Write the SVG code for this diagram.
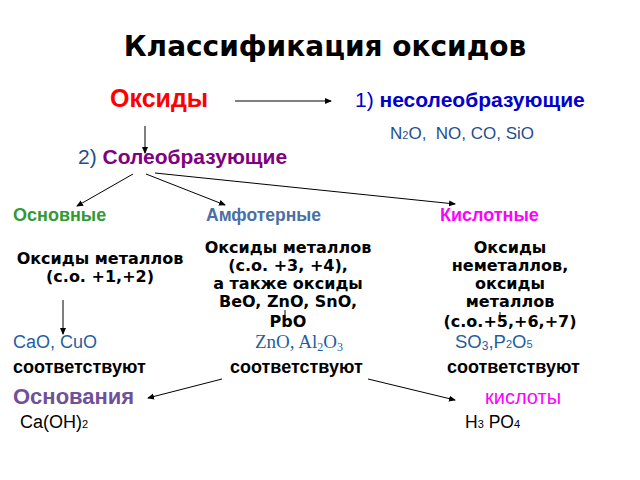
<svg xmlns="http://www.w3.org/2000/svg" width="640" height="480" viewBox="0 0 640 480">
<defs>
<marker id="ah" markerWidth="8" markerHeight="8" refX="6" refY="4" orient="auto" markerUnits="userSpaceOnUse">
<path d="M0,1 L7,4 L0,7 Z" fill="#000"/>
</marker>
<style>
.ls{font-family:"Liberation Sans",Arial,sans-serif}
.dj{font-family:"DejaVu Sans",sans-serif;font-weight:bold;font-size:16px;fill:#000;text-anchor:middle}
.b{font-weight:bold}
.ln{stroke:#000;stroke-width:1;fill:none;marker-end:url(#ah)}
</style>
</defs>
<rect width="640" height="480" fill="#fff"/>
<g id="title"><text x="325" y="56" font-family="DejaVu Sans, sans-serif" font-weight="bold" font-size="28" text-anchor="middle" fill="#000">Классификация оксидов</text></g>
<g id="oxides"><text x="110" y="107" class="ls b" font-size="25" fill="#ff0000">Оксиды</text></g>
<g id="nonsalt">
<text x="355" y="107" class="ls" font-size="21" fill="#0000cc">1) <tspan class="b">несолеобразующие</tspan></text>
<text x="390" y="139" class="ls" font-size="17" fill="#1f4e8c" xml:space="preserve">N<tspan font-size="11">2</tspan>O,  NO, CO, SiO</text>
</g>
<g id="salt"><text x="78" y="164" class="ls" font-size="21" fill="#1f4e8c">2) <tspan class="b" fill="#800080">Солеобразующие</tspan></text></g>
<g id="basic">
<text x="13" y="221" class="ls b" font-size="18" fill="#339933">Основные</text>
<text x="100" y="264" class="dj">Оксиды металлов</text>
<text x="100" y="282" class="dj">(с.о. +1,+2)</text>
<text x="13" y="348" class="ls" font-size="18" fill="#1f5fa0">CaO, CuO</text>
<text x="13" y="373" class="ls b" font-size="18" fill="#000">соответствуют</text>
<text x="13" y="404" class="ls b" font-size="22" fill="#70509a">Основания</text>
<text x="20" y="428" class="ls" font-size="18" fill="#000">Ca(OH)<tspan font-size="11">2</tspan></text>
</g>
<g id="amph">
<text x="206" y="221" class="ls b" font-size="17.5" fill="#4a6fa5">Амфотерные</text>
<text x="288" y="253" class="dj">Оксиды металлов</text>
<text x="288" y="271" class="dj">(с.о. +3, +4),</text>
<text x="288" y="289" class="dj">а также оксиды</text>
<text x="288" y="307" class="dj">BeO, ZnO, SnO,</text>
<text x="288" y="327" class="dj">PbO</text>
<text x="255" y="348" font-family="Liberation Serif, serif" font-size="19" fill="#1f5fa0">ZnO, Al<tspan font-size="12" dy="3">2</tspan><tspan dy="-3">O</tspan><tspan font-size="12" dy="3">3</tspan></text>
<text x="230" y="373" class="ls b" font-size="18" fill="#000">соответствуют</text>
</g>
<g id="acid">
<text x="440" y="221" class="ls b" font-size="18" fill="#ff00ff">Кислотные</text>
<text x="510" y="253" class="dj">Оксиды</text>
<text x="510" y="271" class="dj">неметаллов,</text>
<text x="510" y="289" class="dj">оксиды</text>
<text x="510" y="307" class="dj">металлов</text>
<text x="510" y="327" class="dj">(с.о.+5,+6,+7)</text>
<text x="455" y="348" class="ls" font-size="18.5" fill="#1f5fa0">SO<tspan font-size="12" dy="2">3</tspan><tspan dy="-2">,P</tspan><tspan font-size="11">2</tspan>O<tspan font-size="11">5</tspan></text>
<text x="447" y="373" class="ls b" font-size="18" fill="#000">соответствуют</text>
<text x="485" y="404" class="ls" font-size="20" fill="#ff00ff">кислоты</text>
<text x="465" y="428" class="ls" font-size="17.5" fill="#000">H<tspan font-size="11">3</tspan> PO<tspan font-size="11">4</tspan></text>
</g>
<g id="connectors">
<line x1="235" y1="101" x2="331" y2="101" class="ln"/>
<line x1="145" y1="126" x2="145" y2="153" class="ln"/>
<line x1="133" y1="174" x2="77" y2="206" class="ln"/>
<line x1="146" y1="174" x2="225" y2="205" class="ln"/>
<line x1="155" y1="173" x2="455" y2="204" class="ln"/>
<line x1="63" y1="300" x2="63" y2="334" class="ln"/>
<line x1="285" y1="310" x2="285" y2="320" stroke="#000" stroke-width="1"/>
<line x1="500" y1="312" x2="500" y2="322" stroke="#000" stroke-width="1"/>
<line x1="222" y1="379" x2="148" y2="398" class="ln"/>
<line x1="368" y1="379" x2="455" y2="400" class="ln"/>
</g>
</svg>
